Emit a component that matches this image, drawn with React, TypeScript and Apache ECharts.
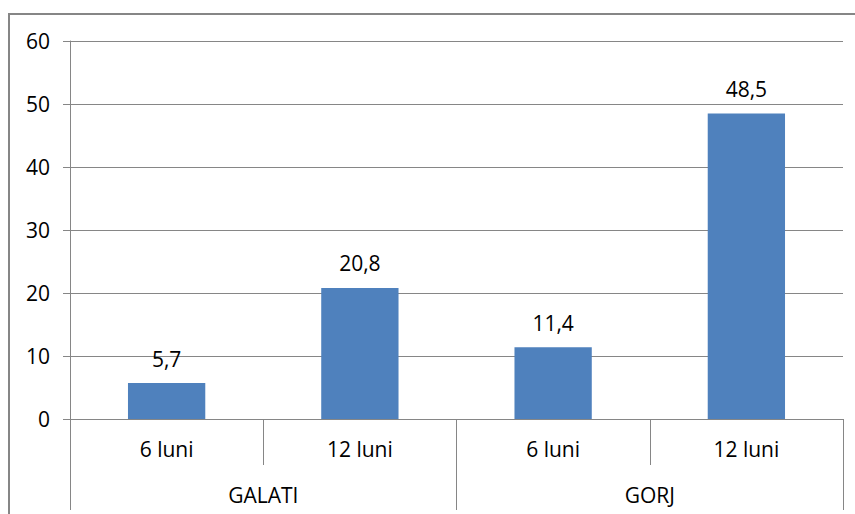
import React, { useEffect, useRef } from "react";
import * as echarts from "echarts";

const subCategories = ["6 luni", "12 luni", "6 luni", "12 luni"];
const groupCategories = ["GALATI", "GORJ"];
const values = [5.7, 20.8, 11.4, 48.5];
const yTicks = { min: 0, max: 60, interval: 10 };

const FONT = "'Open Sans', sans-serif";
const GRAY = "#868686";
const FS = 21;

export default function App() {
  const ref = useRef<HTMLDivElement>(null);
  useEffect(() => {
    if (!ref.current) return;
    const chart = echarts.init(ref.current, null, { renderer: "svg" });
    chart.setOption({
      animation: false,
      backgroundColor: "#fff",
      textStyle: { fontFamily: FONT },
      graphic: [
        {
          type: "rect",
          shape: { x: 9, y: 14, width: 1000, height: 1000 },
          style: { fill: "none", stroke: GRAY, lineWidth: 2 },
          silent: true,
        },
      ],
      grid: { left: 70, top: 41, right: 12, bottom: 95 },
      xAxis: [
        {
          type: "category",
          data: subCategories,
          position: "bottom",
          axisLine: { show: true, lineStyle: { color: GRAY, width: 1 } },
          axisTick: { show: true, interval: 0, length: 46, lineStyle: { color: GRAY } },
          axisLabel: { interval: 0, margin: 19, fontSize: FS, color: "#000", fontFamily: FONT },
        },
        {
          type: "category",
          data: groupCategories,
          position: "bottom",
          offset: 0,
          axisLine: { show: false },
          axisTick: { show: true, interval: 0, length: 91, lineStyle: { color: GRAY } },
          axisLabel: { interval: 0, margin: 65, fontSize: FS, color: "#000", fontFamily: FONT },
        },
      ],
      yAxis: {
        type: "value",
        min: yTicks.min,
        max: yTicks.max,
        interval: yTicks.interval,
        axisLine: { show: true, lineStyle: { color: GRAY } },
        axisTick: { show: true, length: 7, lineStyle: { color: GRAY } },
        splitLine: { show: true, lineStyle: { color: GRAY, width: 1 } },
        axisLabel: { margin: 20, fontSize: FS, color: "#000", fontFamily: FONT },
      },
      series: [
        {
          type: "bar",
          xAxisIndex: 0,
          data: values,
          barWidth: "40%",
          itemStyle: { color: "#4F81BD" },
          label: {
            show: true,
            position: "top",
            distance: 14,
            fontSize: FS,
            color: "#000",
            fontFamily: FONT,
            formatter: (p: any) => String(p.value).replace(".", ","),
          },
        },
      ],
    });
    return () => chart.dispose();
  }, []);
  return (
    <div
      ref={ref}
      style={{ position: "fixed", left: 0, top: 0, width: 855, height: 514 }}
    />
  );
}
